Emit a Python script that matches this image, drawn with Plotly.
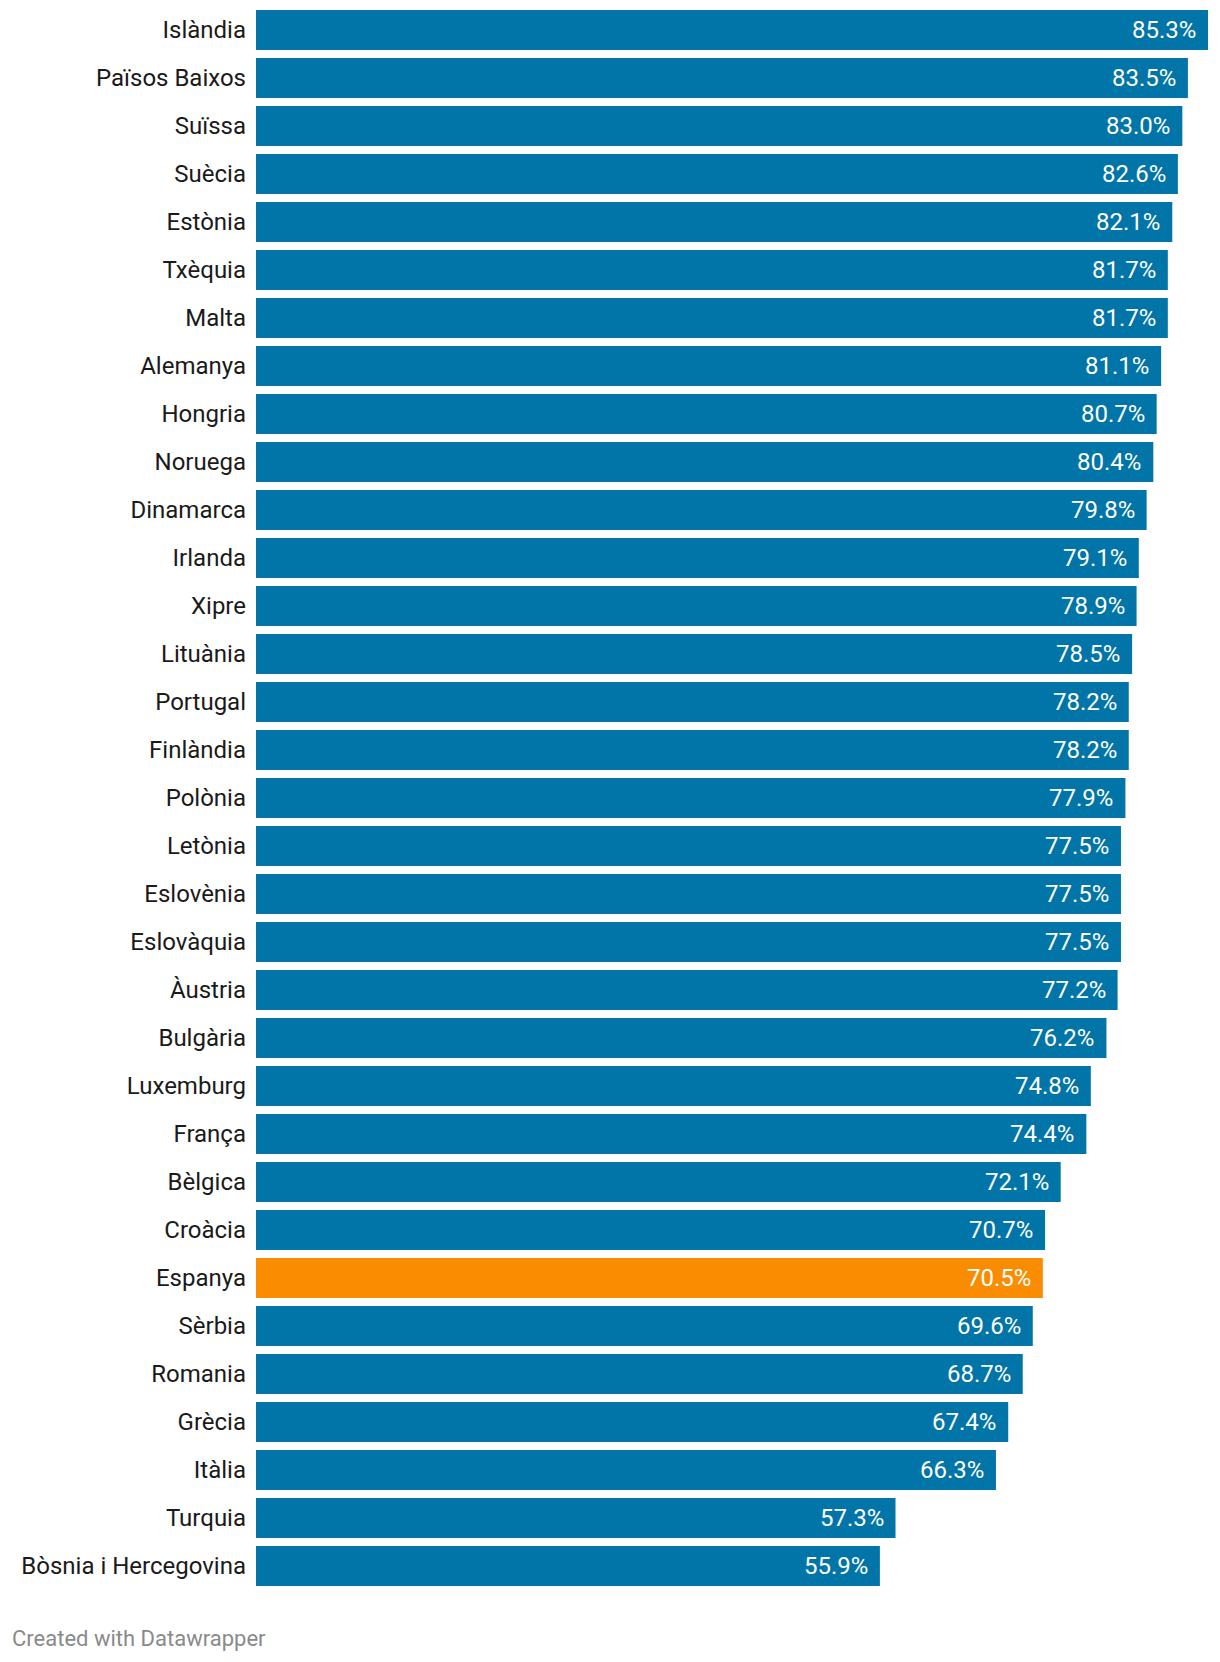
import plotly.graph_objects as go

countries = ["Islàndia", "Països Baixos", "Suïssa", "Suècia", "Estònia", "Txèquia", "Malta",
             "Alemanya", "Hongria", "Noruega", "Dinamarca", "Irlanda", "Xipre", "Lituània",
             "Portugal", "Finlàndia", "Polònia", "Letònia", "Eslovènia", "Eslovàquia", "Àustria",
             "Bulgària", "Luxemburg", "França", "Bèlgica", "Croàcia", "Espanya", "Sèrbia",
             "Romania", "Grècia", "Itàlia", "Turquia", "Bòsnia i Hercegovina"]
values = [85.3, 83.5, 83.0, 82.6, 82.1, 81.7, 81.7, 81.1, 80.7, 80.4, 79.8, 79.1, 78.9, 78.5,
          78.2, 78.2, 77.9, 77.5, 77.5, 77.5, 77.2, 76.2, 74.8, 74.4, 72.1, 70.7, 70.5, 69.6,
          68.7, 67.4, 66.3, 57.3, 55.9]
highlight = "Espanya"

BLUE = "#0174a8"
ORANGE = "#f98c00"
FONT = "Roboto"

W, H = 1220, 1662
ML, MR, MT, MB = 256, 12, 6, 72
plot_w = W - ML - MR
plot_h = H - MT - MB

colors = [ORANGE if c == highlight else BLUE for c in countries]

fig = go.Figure(go.Bar(
    x=values, y=countries, orientation="h",
    marker=dict(color=colors, line=dict(width=0)),
    hoverinfo="skip",
))

for c, v in zip(countries, values):
    fig.add_annotation(x=v, y=c, text=f"{v:.1f}%", showarrow=False,
                       xanchor="right", yanchor="middle", xshift=-10,
                       font=dict(family=FONT, size=24, color="white"))

fig.add_annotation(xref="paper", yref="paper", x=(10 - ML) / plot_w,
                   y=-(1638 - (H - MB)) / plot_h,
                   xanchor="left", yanchor="middle", showarrow=False,
                   text="Created with Datawrapper",
                   font=dict(family=FONT, size=22, color="#8a8a8a"))

fig.update_layout(
    width=W, height=H,
    margin=dict(l=ML, r=MR, t=MT, b=MB, pad=0),
    paper_bgcolor="white", plot_bgcolor="white",
    bargap=8 / 48,
    showlegend=False,
    font=dict(family=FONT),
    xaxis=dict(range=[0, max(values)], visible=False, fixedrange=True),
    yaxis=dict(autorange="reversed", showgrid=False, zeroline=False, showline=False,
               ticks="", ticklabelstandoff=9, fixedrange=True,
               tickfont=dict(family=FONT, size=24, color="#1a1a1a")),
)

fig.write_html("out.html", config={"displayModeBar": False},
               post_script="document.body.style.margin='0';document.body.style.padding='0';")
